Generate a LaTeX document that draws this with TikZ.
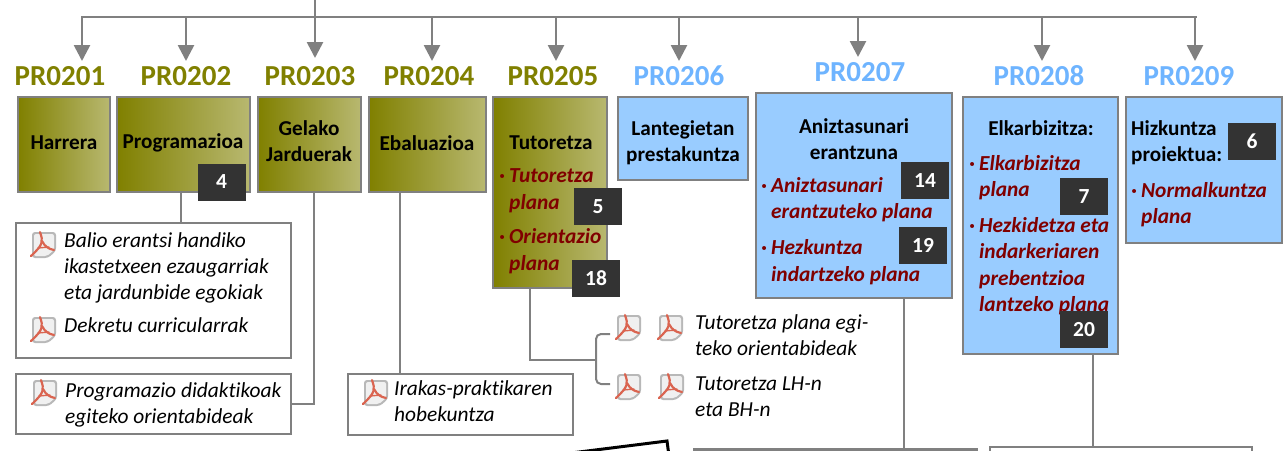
\documentclass[tikz,border=0pt]{standalone}
\usepackage{fontspec}
\setmainfont[Ligatures=NoCommon]{Carlito}
\usetikzlibrary{calc,arrows.meta}

\definecolor{linegray}{RGB}{128,128,128}
\definecolor{headolive}{RGB}{128,128,0}
\definecolor{midolive}{RGB}{166,166,95}
\definecolor{paleolive}{RGB}{184,184,112}
\definecolor{headblue}{RGB}{110,180,255}
\definecolor{boxblue}{RGB}{153,204,255}
\definecolor{badgegray}{RGB}{51,51,51}
\definecolor{planred}{RGB}{128,0,0}
\definecolor{iconred}{RGB}{218,100,80}

\newcommand{\itembul}{\makebox[10pt][l]{\textperiodcentered}}
\newcommand{\itemind}{\hspace*{10pt}}

\begin{document}
\begin{tikzpicture}[x=1pt,y=-1pt]
\tikzstyle{arrow}=[draw=linegray,line width=2.7pt,-{Triangle[width=16pt,length=16pt]}]
\tikzstyle{link}=[draw=linegray,line width=2pt]
\tikzstyle{head}=[inner sep=0pt,font=\fontsize{29}{30}\selectfont\bfseries]
\tikzstyle{olivebox}=[draw=linegray,line width=2.7pt,left color=headolive,middle color=midolive,right color=paleolive,outer sep=0pt]
\tikzstyle{bluebox}=[draw=linegray,line width=2.7pt,fill=boxblue,outer sep=0pt]
\tikzstyle{docbox}=[draw=linegray,line width=2pt,fill=white,outer sep=0pt]
\tikzstyle{title}=[inner sep=0pt,align=center,font=\fontsize{21.2}{26}\selectfont\bfseries]
\tikzstyle{plan}=[inner sep=0pt,anchor=west,align=left,text=planred,font=\fontsize{21.4}{26.5}\selectfont\bfseries\itshape]
\tikzstyle{doc}=[inner sep=0pt,anchor=west,align=left,font=\fontsize{21.4}{26}\selectfont\itshape]
\tikzstyle{badge}=[fill=badgegray,text=white,inner sep=0pt,minimum width=48pt,minimum height=37pt,font=\fontsize{21.5}{22}\selectfont\bfseries]
\tikzset{pdficon/.pic={
  \fill [black!28,rounded corners=3pt] (-11,-13) -- (13,-13) -- (13,6) -- (5,13) -- (-11,13) -- cycle;
  \fill [black!6,rounded corners=2pt] (-9,-11) -- (11,-11) -- (11,5) -- (4,11) -- (-9,11) -- cycle;
  \draw [iconred,line width=2.2pt,line cap=round] (-3,-13) .. controls (0,-4) and (1,-1) .. (-12,11);
  \draw [iconred,line width=2.2pt,line cap=round] (-1,-4) .. controls (2,2) and (6,4) .. (11,5);
  \draw [iconred,line width=1.4pt,line cap=round] (-5,3) -- (6,2);
}}

\path [use as bounding box,clip] (0,0) rectangle (1288,450);

\coordinate (bus) at (0,17);
\coordinate (top) at (315,0);
\coordinate (busleft) at (81,17);
\coordinate (busright) at (1197,17);
\coordinate (tipA) at (82,61);
\coordinate (tipB) at (186,61);
\coordinate (tipC) at (315,58);
\coordinate (tipD) at (432,61);
\coordinate (tipE) at (556,61);
\coordinate (tipF) at (679,61);
\coordinate (tipG) at (858,57);
\coordinate (tipH) at (1042,61);
\coordinate (tipI) at (1195,61);

\draw [link,line width=2.7pt] (busleft) -- (busright);
\draw [arrow] (bus -| tipA) -- (tipA);
\draw [arrow] (bus -| tipB) -- (tipB);
\draw [arrow] (top) -- (tipC);
\draw [arrow] (bus -| tipD) -- (tipD);
\draw [arrow] (bus -| tipE) -- (tipE);
\draw [arrow] (bus -| tipF) -- (tipF);
\draw [arrow] (bus -| tipG) -- (tipG);
\draw [arrow] (bus -| tipH) -- (tipH);
\draw [arrow] (bus -| tipI) -- (tipI);

\node (pr0201) [head,text=headolive] at (60,76) {PR0201};
\node (pr0202) [head,text=headolive] at (186,76) {PR0202};
\node (pr0203) [head,text=headolive] at (310,76) {PR0203};
\node (pr0204) [head,text=headolive] at (429,76) {PR0204};
\node (pr0205) [head,text=headolive] at (553,76) {PR0205};
\node (pr0206) [head,text=headblue] at (679,76) {PR0206};
\node (pr0207) [head,text=headblue] at (860,72) {PR0207};
\node (pr0208) [head,text=headblue] at (1039,76) {PR0208};
\node (pr0209) [head,text=headblue] at (1189,76) {PR0209};

\node (balio) [docbox,minimum width=275pt,minimum height=135pt] at (153.5,290.5) {};
\node (didaktikoak) [docbox,minimum width=275pt,minimum height=60pt] at (153.5,404) {};
\node (irakas) [docbox,minimum width=225pt,minimum height=61pt] at (460.5,404.5) {};

\node (harrera) [olivebox,minimum width=92pt,minimum height=95pt] at (64,144.5) {};
\node (programazioa) [olivebox,minimum width=133pt,minimum height=95pt] at (183.5,144.5) {};
\node (gelako) [olivebox,minimum width=103pt,minimum height=95pt] at (309.5,144.5) {};
\node (ebaluazioa) [olivebox,minimum width=117pt,minimum height=95pt] at (427.5,144.5) {};
\node (tutoretza) [olivebox,minimum width=114pt,minimum height=191pt] at (550,192.5) {};
\node (lantegietan) [bluebox,minimum width=130pt,minimum height=83pt] at (683,138.5) {};
\node (aniztasuna) [bluebox,minimum width=196pt,minimum height=205pt] at (854,195.5) {};
\node (elkarbizitza) [bluebox,minimum width=155pt,minimum height=257pt] at (1040.5,225.5) {};
\node (hizkuntza) [bluebox,minimum width=156pt,minimum height=146pt] at (1204,170) {};

\node (harreratxt) [title] at (64,143) {Harrera};
\node (programazioatxt) [title] at (183,143) {Programazioa};
\node (gelakotxt) [title] at (309,141) {Gelako\\Jarduerak};
\node (ebaluazioatxt) [title] at (427,143) {Ebaluazioa};
\node (tutoretzatxt) [title] at (551,143) {Tutoretza};
\node (lantegietantxt) [title] at (683,142.5) {Lantegietan\\prestakuntza};
\node (aniztasunatxt) [title] at (854,139) {Aniztasunari\\erantzuna};
\node (elkarbizitzatxt) [title] at (1041,128) {Elkarbizitza:};
\node (hizkuntzatxt) [title,align=left,anchor=west] at (1131,142.5) {Hizkuntza\\proiektua:};

\node (planA) [plan] at (499,190.5) {\itembul Tutoretza\\\itemind plana};
\node (planB) [plan] at (499,251) {\itembul Orientazio\\\itemind plana};
\node (planC) [plan] at (761,199.5) {\itembul Aniztasunari\\\itemind erantzuteko plana};
\node (planD) [plan] at (761,262) {\itembul Hezkuntza\\\itemind indartzeko plana};
\node (planE) [plan] at (969,177.5) {\itembul Elkarbizitza\\\itemind plana};
\node (planF) [plan] at (969,266) {\itembul Hezkidetza eta\\\itemind indarkeriaren\\\itemind prebentzioa\\\itemind lantzeko plana};
\node (planG) [plan] at (1131,204.5) {\itembul Normalkuntza\\\itemind plana};

\node (badgeA) [badge] at (221.5,182) {4};
\node (badgeB) [badge] at (598,206.5) {5};
\node (badgeC) [badge] at (596,278.5) {18};
\node (badgeD) [badge] at (925,180.5) {14};
\node (badgeE) [badge] at (923,245.5) {19};
\node (badgeF) [badge] at (1084,196.5) {7};
\node (badgeG) [badge] at (1084,329.5) {20};
\node (badgeH) [badge] at (1252,141.5) {6};

\draw [link] ([xshift=-2.5pt]programazioa.south) -- ([xshift=27.5pt]balio.north);
\draw [link] ([xshift=4.5pt]gelako.south) |- (didaktikoak.east);
\draw [link] ([xshift=-27.5pt]ebaluazioa.south) -- ([xshift=-60.5pt]irakas.north);

\node (doctxtA) [doc] at (64,268) {Balio erantsi handiko\\ikastetxeen ezaugarriak\\eta jardunbide egokiak};
\node (doctxtB) [doc] at (64,325.5) {Dekretu curricularrak};
\node (doctxtC) [doc] at (65,405) {Programazio didaktikoak\\egiteko orientabideak};
\node (doctxtD) [doc] at (394,401) {Irakas-praktikaren\\hobekuntza};
\node (doctxtE) [doc] at (695,335) {Tutoretza plana egi-\\teko orientabideak};
\node (doctxtF) [doc] at (695,397) {Tutoretza LH-n\\eta BH-n};

\pic at (43,245) {pdficon};
\pic at (43,330) {pdficon};
\pic at (44,393) {pdficon};
\pic at (375,393) {pdficon};
\pic at (628,328) {pdficon};
\pic at (670,328) {pdficon};
\pic at (628,387) {pdficon};
\pic at (671,387) {pdficon};

\coordinate (forkmid) at (596,360);
\coordinate (forktop) at (610,334);
\coordinate (forkbottom) at (610,384);
\draw [link] ([xshift=-20pt]tutoretza.south) |- (forkmid);
\draw [link,rounded corners=5pt] (forktop) -| (forkmid) |- (forkbottom);

\node (lowerA) [draw=linegray,line width=3pt,fill=white,outer sep=0pt,minimum width=282pt,minimum height=40pt,anchor=north west] at (694.5,449) {};
\node (lowerB) [docbox,minimum width=262pt,minimum height=40pt,anchor=north west] at (990,447) {};
\draw [link] ([xshift=50pt]aniztasuna.south) -- ([xshift=68.5pt]lowerA.north);
\draw [link] ([xshift=52.5pt]elkarbizitza.south) -- ([xshift=-28pt]lowerB.north);

\draw [black,line width=3pt] (560,454.4) -- (667,441) -- (669,456);
\end{tikzpicture}
\end{document}
